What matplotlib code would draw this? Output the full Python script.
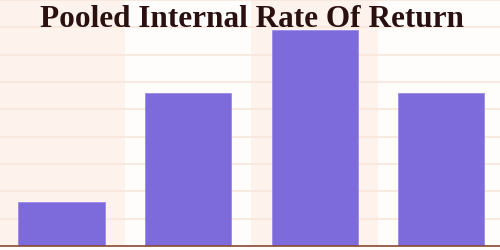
import numpy as np
import matplotlib
matplotlib.use("Agg")
import matplotlib.pyplot as plt

# Data
categories = ["A", "B", "C", "D"]
values = [1.6, 5.6, 7.9, 5.6]
title = "Pooled Internal Rate Of Return"

bar_color = "#7d6bdc"
band_color = "#fdf3ec"
grid_color = "#f7e6dc"

fig = plt.figure(figsize=(5, 2.5), dpi=100)
fig.patch.set_facecolor("#fffdfc")
ax = fig.add_axes([0, 0.016, 1, 0.984])
ax.set_facecolor("#fffdfc")

x = np.arange(len(categories))
# alternating background bands
for i in x:
    if i % 2 == 0:
        ax.axvspan(i - 0.5, i + 0.5, color=band_color, zorder=0, lw=0)

ax.bar(x, values, width=0.68, color=bar_color, edgecolor="#9a8ce6", linewidth=0.6, zorder=3)

ax.set_xlim(-0.486, 3.466)
ax.set_ylim(0, 9)
ax.set_yticks(np.arange(0, 10))
ax.grid(axis="y", color=grid_color, linewidth=1.2, zorder=1)
ax.tick_params(left=False, bottom=False, labelleft=False, labelbottom=False)
for side in ["left", "right", "top"]:
    ax.spines[side].set_visible(False)
ax.spines["bottom"].set_color("#8a4a35")
ax.spines["bottom"].set_linewidth(1.2)
ax.spines["bottom"].set_zorder(4)

fig.text(0.503, 0.892, title, ha="center", va="baseline",
         fontsize=22.5, fontweight="bold", family="Liberation Serif", color="#2a1010")

plt.savefig("out.png", dpi=100)
